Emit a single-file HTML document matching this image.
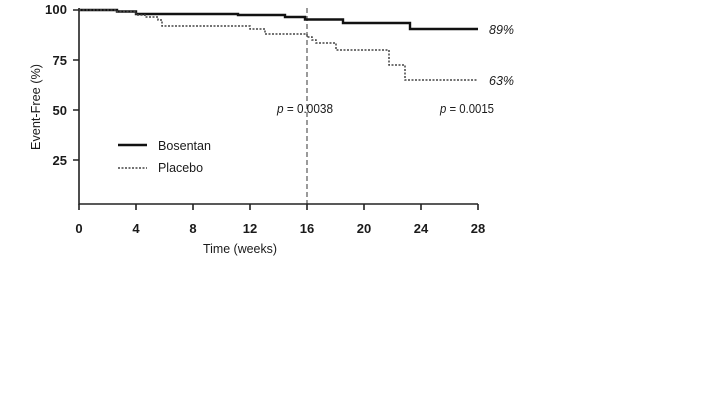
<!DOCTYPE html><html><head><style>body{margin:0;background:#fff}svg text{font-family:"Liberation Sans",sans-serif;fill:#1a1a1a}</style></head><body>
<svg width="714" height="412" viewBox="0 0 714 412" xmlns="http://www.w3.org/2000/svg">
<g stroke="#222" stroke-width="1.6" fill="none">
<path d="M79 8 V204 H478"/>
<path d="M73 10H79M73 60H79M73 110H79M73 160H79"/>
<path d="M79 204v6M136 204v6M193 204v6M250 204v6M307 204v6M364 204v6M421 204v6M478 204v6"/>
</g>
<line x1="307" y1="8" x2="307" y2="204" stroke="#222" stroke-width="0.9" stroke-dasharray="5,3"/>
<path d="M79 10H117V11.5H136V14H238V15H285V17H305V19.5H343V23H410V29H478" fill="none" stroke="#111" stroke-width="2.4"/>
<path d="M79 10H117V11.5H136V15H145V17H158V20H162V26H250V29H265V34H307V37H312V40H316V43H336V50H389V65H405V80H478" fill="none" stroke="#444" stroke-width="1.5" stroke-dasharray="2,1.5"/>
<g font-size="13" text-anchor="end" font-weight="bold">
<text x="67" y="14" textLength="22">100</text><text x="67" y="65">75</text><text x="67" y="115">50</text><text x="67" y="165">25</text></g>
<g font-size="13" text-anchor="middle" font-weight="bold">
<text x="79" y="233">0</text><text x="136" y="233">4</text><text x="193" y="233">8</text><text x="250" y="233">12</text><text x="307" y="233">16</text><text x="364" y="233">20</text><text x="421" y="233">24</text><text x="478" y="233">28</text></g>
<g font-size="13">
<text x="203" y="253" textLength="74" lengthAdjust="spacingAndGlyphs">Time (weeks)</text>
<text transform="translate(40 150) rotate(-90)" textLength="86" lengthAdjust="spacingAndGlyphs">Event-Free (%)</text>
<text x="489" y="34" font-style="italic" textLength="25" lengthAdjust="spacingAndGlyphs">89%</text><text x="489" y="85" font-style="italic" textLength="25" lengthAdjust="spacingAndGlyphs">63%</text>
<text x="277" y="113" textLength="56" lengthAdjust="spacingAndGlyphs"><tspan font-style="italic">p</tspan> = 0.0038</text><text x="440" y="113" textLength="54" lengthAdjust="spacingAndGlyphs"><tspan font-style="italic">p</tspan> = 0.0015</text>
<text x="158" y="150" textLength="53" lengthAdjust="spacingAndGlyphs">Bosentan</text><text x="158" y="172" textLength="45" lengthAdjust="spacingAndGlyphs">Placebo</text></g>
<line x1="118" y1="145" x2="147" y2="145" stroke="#111" stroke-width="2.4"/>
<line x1="118" y1="168" x2="147" y2="168" stroke="#444" stroke-width="1.5" stroke-dasharray="2,1.5"/>
</svg></body></html>
